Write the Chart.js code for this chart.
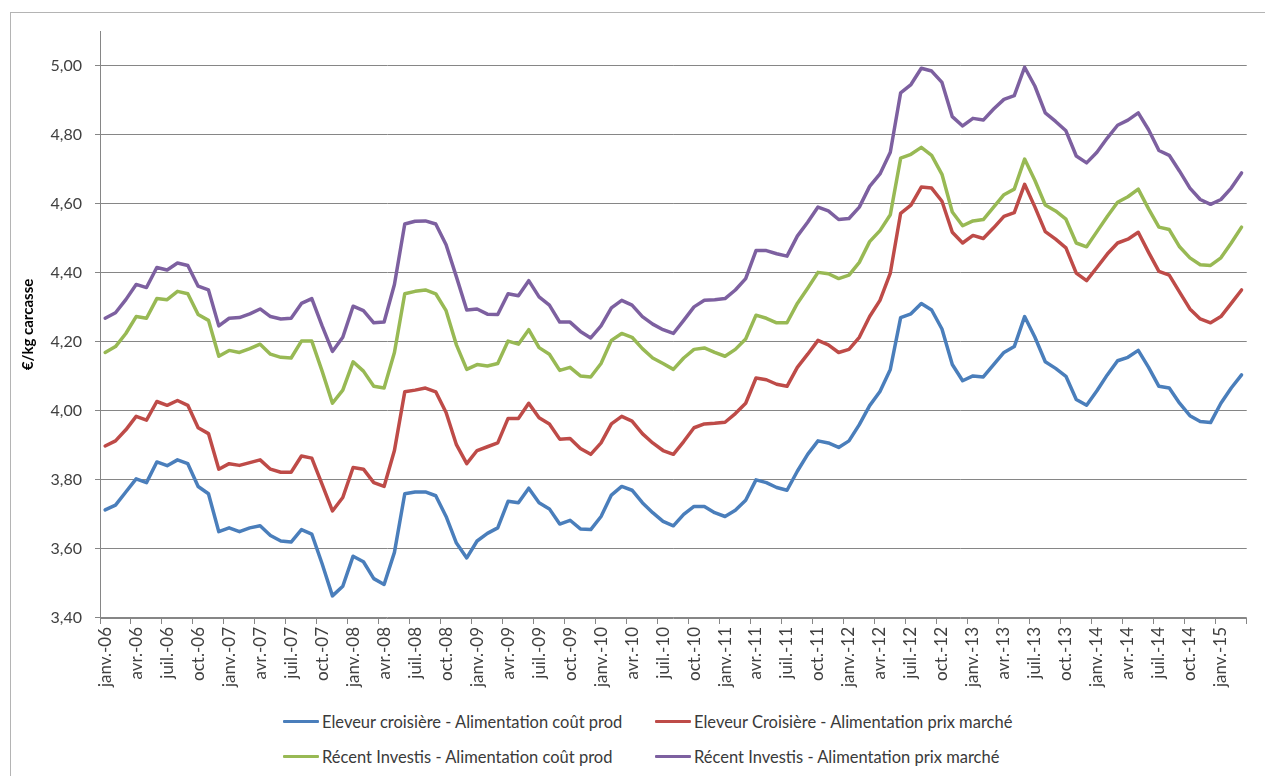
<!DOCTYPE html>
<html lang="fr">
<head>
<meta charset="utf-8">
<title>€/kg carcasse - 2006-2015</title>
<script src="https://cdn.jsdelivr.net/npm/chart.js@4.4.1/dist/chart.umd.min.js"></script>
<style>
    html, body { margin: 0; padding: 0; background: #fff; }
    body { width: 1265px; height: 776px; position: relative; overflow: hidden; font-family: Lato, 'Open Sans', sans-serif; }
    .cadre { position: absolute; left: 10px; top: 12px; width: 1270px; height: 790px; border: 1px solid #b4b4b4; box-sizing: border-box; }
    .zone { position: absolute; left: 0; top: 0; width: 1265px; height: 700px; }
    .legende { position: absolute; left: 283px; top: 704px; display: grid; grid-template-columns: 372px auto; grid-auto-rows: 35px; font-size: 16.5px; color: #3a3a3a; }
    .legende div { display: flex; align-items: center; white-space: nowrap; }
    .legende .trait { display: inline-block; width: 36px; height: 3px; margin-right: 3px; border-radius: 1px; }
</style>
</head>
<body>
<div class="cadre"></div>
<div class="zone"><canvas id="chartCarcasse" width="1265" height="700"></canvas></div>
<div class="legende" id="legende"></div>

<script>
// Axe des mois : janv.-06 -> mars-15
const moisCourts = ['janv.', 'févr.', 'mars', 'avr.', 'mai', 'juin', 'juil.', 'août', 'sept.', 'oct.', 'nov.', 'déc.'];
const annees = ['06', '07', '08', '09', '10', '11', '12', '13', '14', '15'];
const nbMois = 111;

// Séries (€/kg carcasse)
const eleveurCoutProd = [
    3.713, 3.727, 3.765, 3.803, 3.792, 3.852, 3.841, 3.858, 3.847, 3.781, 3.760, 3.650,
    3.661, 3.650, 3.661, 3.667, 3.639, 3.623, 3.620, 3.656, 3.643, 3.557, 3.464, 3.492,
    3.579, 3.563, 3.514, 3.497, 3.590, 3.760, 3.765, 3.765, 3.754, 3.694, 3.617, 3.574,
    3.623, 3.645, 3.661, 3.738, 3.734, 3.776, 3.734, 3.716, 3.672, 3.683, 3.658, 3.656,
    3.694, 3.756, 3.781, 3.770, 3.734, 3.705, 3.680, 3.667, 3.700, 3.723, 3.723, 3.705,
    3.694, 3.712, 3.741, 3.800, 3.792, 3.778, 3.770, 3.825, 3.874, 3.913, 3.907, 3.894,
    3.913, 3.960, 4.015, 4.056, 4.120, 4.270, 4.281, 4.311, 4.292, 4.237, 4.134, 4.087,
    4.101, 4.098, 4.134, 4.169, 4.186, 4.273, 4.213, 4.142, 4.123, 4.100, 4.033, 4.016,
    4.058, 4.104, 4.145, 4.155, 4.175, 4.126, 4.071, 4.066, 4.022, 3.986, 3.969, 3.966,
    4.022, 4.066, 4.104
];
const eleveurPrixMarche = [
    3.898, 3.913, 3.945, 3.984, 3.973, 4.027, 4.016, 4.030, 4.016, 3.951, 3.934, 3.831,
    3.847, 3.842, 3.850, 3.858, 3.831, 3.822, 3.822, 3.869, 3.863, 3.787, 3.710, 3.749,
    3.836, 3.831, 3.792, 3.781, 3.885, 4.055, 4.060, 4.066, 4.055, 3.995, 3.902, 3.847,
    3.885, 3.896, 3.907, 3.978, 3.978, 4.022, 3.980, 3.962, 3.918, 3.920, 3.891, 3.874,
    3.907, 3.962, 3.984, 3.970, 3.934, 3.907, 3.885, 3.874, 3.911, 3.951, 3.962, 3.964,
    3.967, 3.992, 4.022, 4.095, 4.090, 4.077, 4.071, 4.126, 4.164, 4.204, 4.191, 4.169,
    4.178, 4.213, 4.273, 4.320, 4.399, 4.572, 4.596, 4.648, 4.645, 4.607, 4.517, 4.486,
    4.508, 4.499, 4.530, 4.563, 4.574, 4.656, 4.590, 4.519, 4.497, 4.472, 4.399, 4.377,
    4.415, 4.454, 4.486, 4.497, 4.517, 4.459, 4.404, 4.393, 4.344, 4.295, 4.266, 4.255,
    4.273, 4.311, 4.350
];
const recentCoutProd = [
    4.169, 4.186, 4.224, 4.273, 4.268, 4.325, 4.322, 4.346, 4.339, 4.279, 4.262, 4.158,
    4.175, 4.169, 4.180, 4.193, 4.164, 4.155, 4.153, 4.202, 4.202, 4.115, 4.022, 4.060,
    4.142, 4.115, 4.071, 4.066, 4.169, 4.339, 4.346, 4.350, 4.339, 4.290, 4.191, 4.120,
    4.134, 4.130, 4.137, 4.202, 4.193, 4.235, 4.183, 4.164, 4.117, 4.126, 4.101, 4.098,
    4.137, 4.204, 4.224, 4.213, 4.180, 4.153, 4.137, 4.120, 4.153, 4.178, 4.182, 4.169,
    4.158, 4.178, 4.208, 4.277, 4.268, 4.255, 4.255, 4.311, 4.355, 4.401, 4.397, 4.383,
    4.393, 4.430, 4.490, 4.522, 4.568, 4.732, 4.743, 4.763, 4.740, 4.685, 4.576, 4.536,
    4.550, 4.554, 4.590, 4.626, 4.642, 4.729, 4.667, 4.596, 4.579, 4.555, 4.486, 4.475,
    4.519, 4.563, 4.604, 4.620, 4.642, 4.585, 4.532, 4.525, 4.475, 4.443, 4.423, 4.421,
    4.443, 4.486, 4.532
];
const recentPrixMarche = [
    4.268, 4.284, 4.322, 4.366, 4.357, 4.415, 4.408, 4.428, 4.421, 4.361, 4.350, 4.246,
    4.268, 4.270, 4.281, 4.295, 4.273, 4.266, 4.268, 4.311, 4.325, 4.246, 4.172, 4.213,
    4.303, 4.290, 4.255, 4.257, 4.366, 4.541, 4.549, 4.550, 4.541, 4.481, 4.388, 4.292,
    4.295, 4.280, 4.279, 4.339, 4.333, 4.377, 4.330, 4.306, 4.257, 4.257, 4.230, 4.211,
    4.246, 4.298, 4.320, 4.306, 4.273, 4.251, 4.235, 4.224, 4.262, 4.301, 4.320, 4.322,
    4.325, 4.350, 4.383, 4.464, 4.464, 4.455, 4.448, 4.506, 4.546, 4.590, 4.579, 4.554,
    4.557, 4.590, 4.650, 4.686, 4.749, 4.921, 4.945, 4.992, 4.984, 4.951, 4.852, 4.825,
    4.847, 4.842, 4.874, 4.902, 4.913, 4.995, 4.940, 4.863, 4.838, 4.811, 4.738, 4.718,
    4.749, 4.790, 4.827, 4.842, 4.863, 4.814, 4.754, 4.740, 4.694, 4.645, 4.612, 4.598,
    4.612, 4.645, 4.689
];

const nomsSeries = [
    'Eleveur croisière - Alimentation coût prod',
    'Eleveur Croisière - Alimentation prix marché',
    'Récent Investis - Alimentation coût prod',
    'Récent Investis - Alimentation prix marché'
];
const couleurs = ['#4a7ebb', '#be4b48', '#98b954', '#7d60a0'];

const categories = [];
for (let i = 0; i < nbMois; i++) {
    categories.push(moisCourts[i % 12] + '-' + annees[Math.floor(i / 12)]);
}

const gris = '#868686';
const police = 'Lato';
const seriesData = [eleveurCoutProd, eleveurPrixMarche, recentCoutProd, recentPrixMarche];

const ctx = document.getElementById('chartCarcasse');
new Chart(ctx, {
    type: 'line',
    data: {
        labels: categories,
        datasets: seriesData.map((d, i) => ({
            label: nomsSeries[i],
            data: d,
            borderColor: couleurs[i],
            backgroundColor: couleurs[i],
            borderWidth: 3.5,
            pointRadius: 0,
            tension: 0,
            borderJoinStyle: 'round',
            borderCapStyle: 'round'
        }))
    },
    options: {
        responsive: false,
        animation: false,
        layout: {
            padding: { left: 10, right: 9, top: 31, bottom: 0 }
        },
        plugins: {
            legend: { display: false },
            tooltip: { mode: 'index', intersect: false }
        },
        scales: {
            x: {
                type: 'category',
                offset: true,
                afterFit: (s) => { s.height = 82; },
                border: { display: true, color: gris, width: 1 },
                grid: {
                    offset: true,
                    drawOnChartArea: false,
                    tickLength: 6,
                    color: (c) => (c.type !== 'tick' || c.index % 3 === 0) ? gris : 'rgba(0,0,0,0)'
                },
                ticks: {
                    autoSkip: false,
                    minRotation: 90,
                    maxRotation: 90,
                    padding: 3,
                    color: '#404040',
                    font: { family: police, size: 17 },
                    callback: function (value, index) {
                        return index % 3 === 0 ? this.getLabelForValue(value) : '';
                    }
                }
            },
            y: {
                min: 3.4,
                max: 5.1,
                afterFit: (s) => { s.width = 90; },
                border: { display: true, color: gris, width: 1 },
                grid: { color: gris, lineWidth: 1, tickLength: 5 },
                title: {
                    display: true,
                    text: '€/kg carcasse',
                    color: '#000',
                    font: { family: police, size: 15, weight: 'bold' },
                    padding: { top: 9, bottom: 0 }
                },
                ticks: {
                    stepSize: 0.2,
                    includeBounds: false,
                    padding: 13,
                    color: '#404040',
                    font: { family: police, size: 16 },
                    callback: (v) => v.toFixed(2).replace('.', ',')
                }
            }
        }
    }
});

// Légende en deux colonnes, comme dans Excel
const legende = document.getElementById('legende');
nomsSeries.forEach((nom, i) => {
    const item = document.createElement('div');
    const trait = document.createElement('span');
    trait.className = 'trait';
    trait.style.background = couleurs[i];
    item.appendChild(trait);
    item.appendChild(document.createTextNode(nom));
    legende.appendChild(item);
});
</script>
</body>
</html>
